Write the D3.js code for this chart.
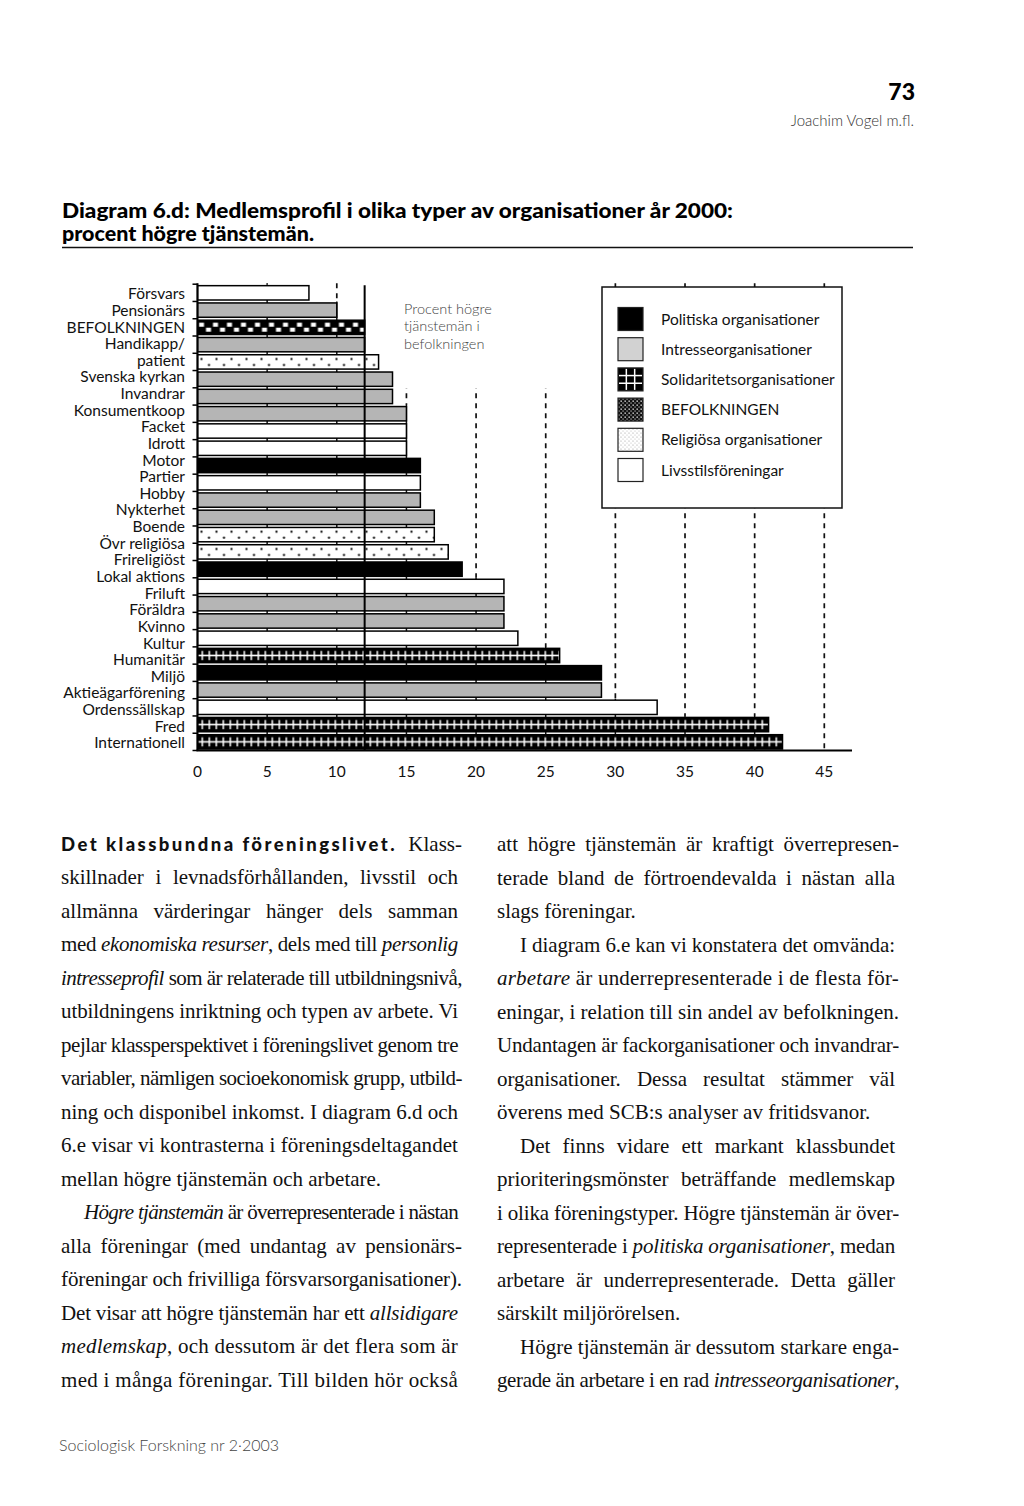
<!DOCTYPE html>
<html>
<head>
<meta charset="utf-8">
<script src="https://cdn.jsdelivr.net/npm/d3@7"></script>
<style>
  body { margin: 0; background: #fff; }
  svg { display: block; }
</style>
</head>
<body>
<div id="page"></div>
<script>
// values (percent högre tjänstemän)
var labels = ["Försvars", "Pensionärs", "BEFOLKNINGEN", "Handikapp/\npatient", "Svenska kyrkan",
  "Invandrar", "Konsumentkoop", "Facket", "Idrott", "Motor", "Partier", "Hobby", "Nykterhet",
  "Boende", "Övr religiösa", "Frireligiöst", "Lokal aktions", "Friluft", "Föräldra", "Kvinno",
  "Kultur", "Humanitär", "Miljö", "Aktieägarförening", "Ordenssällskap", "Fred", "Internationell"];
var values = [8, 10, 12, 12, 13, 14, 14, 15, 15, 15, 16, 16, 16, 17, 17, 18, 19, 22, 22, 22, 23, 26, 29, 29, 33, 41, 42];
var types = ["liv", "int", "bef", "int", "rel", "int", "int", "int", "liv", "liv", "pol", "liv", "int",
  "int", "rel", "rel", "pol", "liv", "int", "int", "liv", "sol", "pol", "int", "liv", "sol", "sol"];

var legendNames = ["Politiska organisationer", "Intresseorganisationer", "Solidaritetsorganisationer",
  "BEFOLKNINGEN", "Religiösa organisationer", "Livsstilsföreningar"];
var legendTypes = ["pol", "int", "sol", "bef", "rel", "liv"];

var xTicks = [0, 5, 10, 15, 20, 25, 30, 35, 40, 45];
var befolkningen = 12;
var noteLines = ["Procent högre", "tjänstemän i", "befolkningen"];

// body text, *...* = italic
var leftLines = [
  {b: "Det klassbundna föreningslivet.", t: " Klass-"},
  {t: "skillnader i levnadsförhållanden, livsstil och"},
  {t: "allmänna värderingar hänger dels samman"},
  {t: "med *ekonomiska resurser*, dels med till *personlig*"},
  {t: "*intresseprofil* som är relaterade till utbildningsnivå,"},
  {t: "utbildningens inriktning och typen av arbete. Vi"},
  {t: "pejlar klassperspektivet i föreningslivet genom tre"},
  {t: "variabler, nämligen socioekonomisk grupp, utbild-"},
  {t: "ning och disponibel inkomst. I diagram 6.d och"},
  {t: "6.e visar vi kontrasterna i föreningsdeltagandet"},
  {t: "mellan högre tjänstemän och arbetare.", last: true},
  {t: "*Högre tjänstemän* är överrepresenterade i nästan", indent: true},
  {t: "alla föreningar (med undantag av pensionärs-"},
  {t: "föreningar och frivilliga försvarsorganisationer)."},
  {t: "Det visar att högre tjänstemän har ett *allsidigare*"},
  {t: "*medlemskap*, och dessutom är det flera som är"},
  {t: "med i många föreningar. Till bilden hör också"}
];
var rightLines = [
  {t: "att högre tjänstemän är kraftigt överrepresen-"},
  {t: "terade bland de förtroendevalda i nästan alla"},
  {t: "slags föreningar.", last: true},
  {t: "I diagram 6.e kan vi konstatera det omvända:", indent: true},
  {t: "*arbetare* är underrepresenterade i de flesta för-"},
  {t: "eningar, i relation till sin andel av befolkningen."},
  {t: "Undantagen är fackorganisationer och invandrar-"},
  {t: "organisationer. Dessa resultat stämmer väl"},
  {t: "överens med SCB:s analyser av fritidsvanor.", last: true},
  {t: "Det finns vidare ett markant klassbundet", indent: true},
  {t: "prioriteringsmönster beträffande medlemskap"},
  {t: "i olika föreningstyper. Högre tjänstemän är över-"},
  {t: "representerade i *politiska organisationer*, medan"},
  {t: "arbetare är underrepresenterade. Detta gäller"},
  {t: "särskilt miljörörelsen.", last: true},
  {t: "Högre tjänstemän är dessutom starkare enga-", indent: true},
  {t: "gerade än arbetare i en rad *intresseorganisationer*,"}
];

var W = 1024, H = 1506;
var sans = "Lato, 'Open Sans', sans-serif";
var serif = "'Liberation Serif', 'DejaVu Serif', serif";

var svg = d3.select("#page").append("svg")
  .attr("width", W).attr("height", H)
  .style("background", "#fff");

var defs = svg.append("defs");

// scales
var x = d3.scaleLinear().domain([0, 45]).range([197.5, 824.3]);
var y = d3.scaleBand().domain(labels).range([284.2, 750.5])
  .paddingInner(0.17).paddingOuter(0.085);
var bw = y.bandwidth(), step = y.step();
var top0 = y.range()[0], bottom0 = y.range()[1];
var firstTop = y(labels[0]);

// patterns, tiled on the band grid so every bar gets the same phase
var pBef = defs.append("pattern").attr("id", "p-bef").attr("patternUnits", "userSpaceOnUse")
  .attr("x", x(0)).attr("y", firstTop).attr("width", 14).attr("height", step);
pBef.append("rect").attr("width", 14).attr("height", step).attr("fill", "#000");
pBef.append("rect").attr("x", 1.5).attr("y", 2.5).attr("width", 5).attr("height", 4).attr("fill", "#fff");
pBef.append("rect").attr("x", 8.5).attr("y", 7.5).attr("width", 5).attr("height", 4).attr("fill", "#fff");

var pRel = defs.append("pattern").attr("id", "p-rel").attr("patternUnits", "userSpaceOnUse")
  .attr("x", x(0)).attr("y", firstTop).attr("width", 15).attr("height", step);
pRel.append("rect").attr("width", 15).attr("height", step).attr("fill", "#fff");
pRel.append("circle").attr("cx", 4).attr("cy", bw * 0.3).attr("r", 1.1).attr("fill", "#000");
pRel.append("circle").attr("cx", 11.5).attr("cy", bw * 0.72).attr("r", 1.1).attr("fill", "#000");

var pSol = defs.append("pattern").attr("id", "p-sol").attr("patternUnits", "userSpaceOnUse")
  .attr("x", x(0)).attr("y", firstTop).attr("width", 7).attr("height", step);
pSol.append("rect").attr("width", 7).attr("height", step).attr("fill", "#000");
pSol.append("rect").attr("x", 0).attr("y", bw / 2 - 0.8).attr("width", 7).attr("height", 1.6).attr("fill", "#fff");
pSol.append("rect").attr("x", 4).attr("y", 2.6).attr("width", 1.5).attr("height", bw - 5.2).attr("fill", "#fff");

// legend swatch patterns
var pBefS = defs.append("pattern").attr("id", "p-bef-s").attr("patternUnits", "userSpaceOnUse")
  .attr("width", 4).attr("height", 4);
pBefS.append("rect").attr("width", 4).attr("height", 4).attr("fill", "#111");
pBefS.append("rect").attr("x", 0.5).attr("y", 0.5).attr("width", 1.3).attr("height", 1.3).attr("fill", "#fff");
pBefS.append("rect").attr("x", 2.5).attr("y", 2.5).attr("width", 1.1).attr("height", 1.1).attr("fill", "#ddd");
var pRelS = defs.append("pattern").attr("id", "p-rel-s").attr("patternUnits", "userSpaceOnUse")
  .attr("width", 4).attr("height", 4);
pRelS.append("rect").attr("width", 4).attr("height", 4).attr("fill", "#fff");
pRelS.append("circle").attr("cx", 1).attr("cy", 1).attr("r", 0.6).attr("fill", "#999");
pRelS.append("circle").attr("cx", 3).attr("cy", 3).attr("r", 0.6).attr("fill", "#bbb");

var fills = {pol: "#000", int: "#b5b5b5", sol: "url(#p-sol)", bef: "url(#p-bef)", rel: "url(#p-rel)", liv: "#fff"};
var swatchFills = {pol: "#000", int: "#d2d2d2", sol: "#000", bef: "url(#p-bef-s)", rel: "url(#p-rel-s)", liv: "#fff"};

// ---- page header ----
svg.append("text").attr("x", 915).attr("y", 100).attr("text-anchor", "end")
  .style("font-family", sans).style("font-weight", 900).style("font-size", "23px").text("73");
svg.append("text").attr("x", 914).attr("y", 126).attr("text-anchor", "end")
  .style("font-family", sans).style("font-weight", 300).style("font-size", "15px").attr("fill", "#333")
  .text("Joachim Vogel m.fl.");

svg.append("text").attr("x", 62).attr("y", 218)
  .attr("textLength", 671).attr("lengthAdjust", "spacingAndGlyphs")
  .style("font-family", sans).style("font-weight", 900).style("font-size", "20px")
  .text("Diagram 6.d: Medlemsprofil i olika typer av organisationer år 2000:");
svg.append("text").attr("x", 62).attr("y", 241)
  .attr("textLength", 252).attr("lengthAdjust", "spacingAndGlyphs")
  .style("font-family", sans).style("font-weight", 900).style("font-size", "20px")
  .text("procent högre tjänstemän.");
svg.append("line").attr("x1", 62).attr("x2", 913).attr("y1", 247.5).attr("y2", 247.5)
  .attr("stroke", "#111").attr("stroke-width", 1.6);

// ---- chart ----
var chart = svg.append("g");

// grid lines: dashed where open, solid where they run behind the bars
xTicks.filter(function(v) { return v > 0; }).forEach(function(v) {
  var k = values.findIndex(function(d) { return d >= v; });
  var ySolid = k < 0 ? bottom0 : y(labels[k]) - (step - bw) / 2;
  chart.append("line").attr("x1", x(v)).attr("x2", x(v))
    .attr("y1", top0 - 1).attr("y2", ySolid)
    .attr("stroke", "#111").attr("stroke-width", 1.7).attr("stroke-dasharray", "5,5");
  if (k >= 0) {
    chart.append("line").attr("x1", x(v)).attr("x2", x(v))
      .attr("y1", ySolid).attr("y2", bottom0)
      .attr("stroke", "#111").attr("stroke-width", 1.5);
  }
});

// white panel behind the note text
chart.append("rect").attr("x", x(befolkningen) + 4).attr("y", top0 - 4)
  .attr("width", 230).attr("height", 388 - top0 + 4).attr("fill", "#fff");

// legend box
var legend = chart.append("g");
legend.append("rect").attr("x", 602).attr("y", 287).attr("width", 240).attr("height", 221)
  .attr("fill", "#fff").attr("stroke", "#111").attr("stroke-width", 1.5);
var ly = d3.scalePoint().domain(legendNames).range([319, 470]);
legendNames.forEach(function(name, i) {
  var t = legendTypes[i], cy = ly(name);
  legend.append("rect").attr("x", 618).attr("y", cy - 11.5).attr("width", 25).attr("height", 23)
    .attr("fill", swatchFills[t]).attr("stroke", "#222").attr("stroke-width", 1.2);
  if (t === "sol") {
    [1, 2].forEach(function(j) {
      legend.append("line").attr("x1", 618 + j * 25 / 3).attr("x2", 618 + j * 25 / 3)
        .attr("y1", cy - 10.5).attr("y2", cy + 10.5).attr("stroke", "#fff").attr("stroke-width", 1.5);
      legend.append("line").attr("x1", 619).attr("x2", 642)
        .attr("y1", cy - 11.5 + j * 23 / 3).attr("y2", cy - 11.5 + j * 23 / 3)
        .attr("stroke", "#fff").attr("stroke-width", 1.5);
    });
  }
  legend.append("text").attr("x", 661).attr("y", cy + 5.5)
    .style("font-family", sans).style("font-size", "15.5px").attr("fill", "#111").text(name);
});

// note
chart.append("g").selectAll("text").data(noteLines).enter().append("text")
  .attr("x", 404).attr("y", function(d, i) { return 313.5 + i * 17.7; })
  .style("font-family", sans).style("font-weight", 300).style("font-size", "14.5px")
  .attr("fill", "#444").text(function(d) { return d; });

// bars
chart.append("g").selectAll("rect").data(labels).enter().append("rect")
  .attr("x", x(0)).attr("y", function(d) { return y(d); })
  .attr("width", function(d, i) { return x(values[i]) - x(0); })
  .attr("height", bw)
  .attr("fill", function(d, i) { return fills[types[i]]; })
  .attr("stroke", "#000").attr("stroke-width", 1.5);

// population reference line
chart.append("line").attr("x1", x(befolkningen)).attr("x2", x(befolkningen))
  .attr("y1", top0 + 1).attr("y2", bottom0)
  .attr("stroke", "#000").attr("stroke-width", 2);

// y axis with ticks on band boundaries
chart.append("line").attr("x1", x(0)).attr("x2", x(0)).attr("y1", top0 - 1).attr("y2", bottom0)
  .attr("stroke", "#000").attr("stroke-width", 2);
chart.append("g").selectAll("line").data(d3.range(labels.length + 1)).enter().append("line")
  .attr("x1", x(0) - 5).attr("x2", x(0))
  .attr("y1", function(i) { return top0 + i * step; })
  .attr("y2", function(i) { return top0 + i * step; })
  .attr("stroke", "#000").attr("stroke-width", 1.5);

// x axis
chart.append("line").attr("x1", x(0) - 1).attr("x2", 852).attr("y1", bottom0).attr("y2", bottom0)
  .attr("stroke", "#000").attr("stroke-width", 1.8);
chart.append("g").selectAll("text").data(xTicks).enter().append("text")
  .attr("x", function(d) { return x(d); }).attr("y", 777).attr("text-anchor", "middle")
  .style("font-family", sans).style("font-size", "15.5px").attr("fill", "#111")
  .text(function(d) { return d; });

// category labels: one text column, the two-line label pushes the rest down
var labelLines = [];
labels.forEach(function(l) { l.split("\n").forEach(function(s) { labelLines.push(s); }); });
var ll = d3.scalePoint().domain(d3.range(labelLines.length)).range([299.3, 748.3]);
chart.append("g").selectAll("text").data(labelLines).enter().append("text")
  .attr("x", 185).attr("y", function(d, i) { return ll(i); }).attr("text-anchor", "end")
  .style("font-family", sans).style("font-size", "15.5px").attr("fill", "#111")
  .text(function(d) { return d; });

// ---- body text ----
function drawColumn(lines, x0, width, y0, lh) {
  var g = svg.append("g").style("font-family", serif).style("font-size", "21px").attr("fill", "#111");
  lines.forEach(function(l, i) {
    var ind = l.indent ? 23 : 0;
    var t = g.append("text").attr("x", x0 + ind).attr("y", y0 + i * lh);
    if (l.b) {
      // bold run-in heading, tracked out to its width in the print
      var bt = t.append("tspan").text(l.b).style("font-family", sans).style("font-weight", 900)
        .style("font-size", "18.5px").style("word-spacing", "0px");
      var bw0 = bt.node().getComputedTextLength();
      bt.style("letter-spacing", Math.max(0, (336 - bw0) / l.b.length) + "px");
    }
    l.t.split("*").forEach(function(p, j) {
      if (!p) return;
      var ts = t.append("tspan").text(p);
      if (j % 2 === 1) ts.style("font-style", "italic");
    });
    if (!l.last) {
      var rest = l.t.replace(/\*/g, "");
      var full = (l.b || "") + rest;
      var n = ((l.b ? rest : full).match(/ /g) || []).length;
      var hang = /[-,.)]$/.test(full) ? 4 : 0;
      var target = width - ind + hang;
      var w = t.node().getComputedTextLength();
      if (w > target - n * 2) {
        // too full: keep a normal word gap and tighten the letters a little
        t.style("letter-spacing", ((target - w) / full.length) + "px");
      } else if (n > 0) {
        t.style("word-spacing", ((target - w) / n) + "px");
      }
    }
  });
}
drawColumn(leftLines, 61, 397, 850.7, 33.5);
drawColumn(rightLines, 497, 398, 851.2, 33.5);

// footer
svg.append("text").attr("x", 59).attr("y", 1451)
  .style("font-family", sans).style("font-weight", 300).style("font-size", "16px").attr("fill", "#444")
  .text("Sociologisk Forskning nr 2·2003");
</script>
</body>
</html>
